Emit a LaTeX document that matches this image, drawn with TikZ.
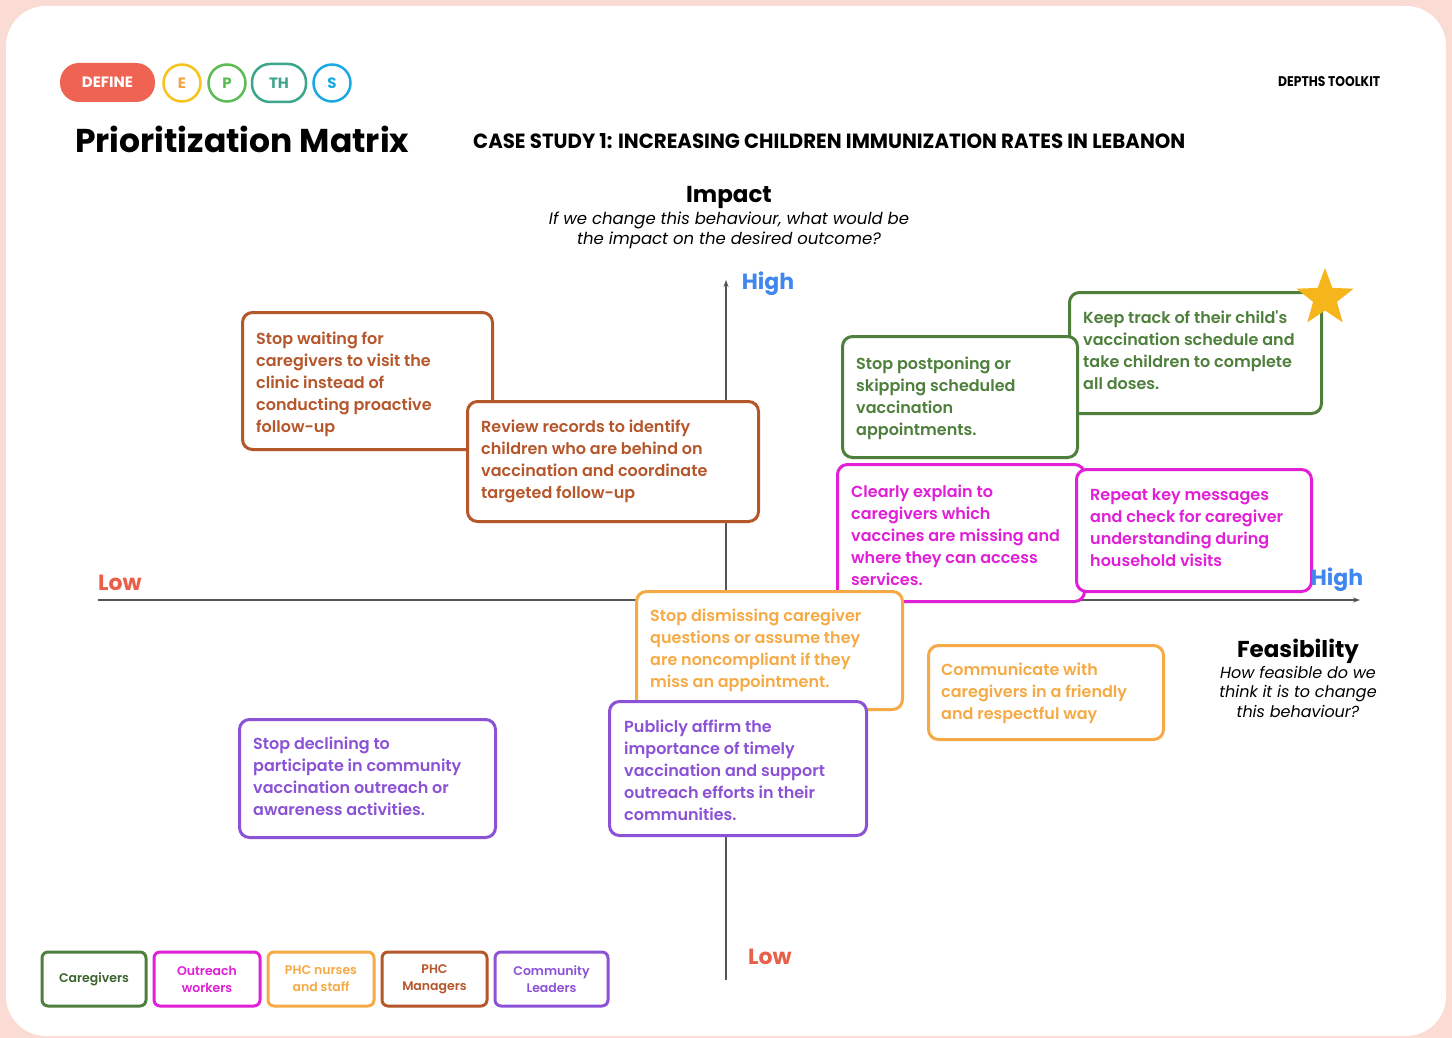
\documentclass[tikz,border=0pt]{standalone}
\usepackage{fontspec}
\setmainfont{Poppins}
\newfontfamily\boxfont{Poppins SemiBold}
\usetikzlibrary{shapes.geometric,arrows.meta,calc}

\definecolor{pagepink}{HTML}{FBDCD4}
\definecolor{brownc}{HTML}{B5562B}
\definecolor{greenc}{HTML}{4E7F3C}
\definecolor{magc}{HTML}{E01FD6}
\definecolor{orangec}{HTML}{F6AA45}
\definecolor{purplec}{HTML}{8B52D6}
\definecolor{highblue}{HTML}{3F86EE}
\definecolor{lowred}{HTML}{E9604A}
\definecolor{axisgray}{HTML}{555555}
\definecolor{definered}{HTML}{EE6352}
\definecolor{eyellow}{HTML}{F7C21B}
\definecolor{eorange}{HTML}{F2A34A}
\definecolor{pgreen}{HTML}{5DBB54}
\definecolor{thteal}{HTML}{3DA58C}
\definecolor{sblue}{HTML}{1BA9E1}
\definecolor{stargold}{HTML}{F7B51C}

\tikzset{
  card/.style={draw, line width=3pt, rounded corners=10pt, fill=white,
    anchor=north west, inner sep=0pt},
  cardtext/.style={anchor=north west, align=left, inner sep=0pt, yshift=-3pt,
    font=\boxfont\fontsize{16}{22}\selectfont},
  legendbox/.style={draw, line width=3pt, rounded corners=6pt, fill=white,
    minimum width=104pt, minimum height=54pt, align=center, inner sep=0pt,
    font=\boxfont\fontsize{12.5}{17}\selectfont},
  axisline/.style={draw=axisgray, line width=1.5pt, -{Stealth[length=7pt,width=5pt]}},
  axislabel/.style={font=\bfseries\fontsize{22}{24}\selectfont, inner sep=0pt},
  ring/.style={draw, line width=2.5pt, circle, minimum size=37pt, inner sep=0pt,
    font=\bfseries\fontsize{15}{16}\selectfont},
}

\begin{document}
\begin{tikzpicture}[x=1pt,y=-1pt]
  % page and sheet
  \fill[pagepink] (0,0) rectangle (1452,1038);
  \fill[white, rounded corners=40pt] (6,6) rectangle (1446,1036);
  \useasboundingbox (0,0) rectangle (1452,1038);

  % header tags
  \node[fill=definered, rounded corners=19pt, minimum width=95pt, minimum height=39pt,
        inner sep=0pt, text=white, font=\bfseries\fontsize{15}{16}\selectfont] (define) at (107.5,82.5) {DEFINE};
  \node[ring, draw=eyellow, text=eorange] (tagE) at (182,83) {E};
  \node[ring, draw=pgreen, text=pgreen] (tagP) at (227,83) {P};
  \node[draw=thteal, line width=2.5pt, rounded corners=18pt, minimum width=54pt, minimum height=38pt,
        inner sep=0pt, text=thteal, font=\bfseries\fontsize{15}{16}\selectfont] (tagTH) at (279,83) {TH};
  \node[ring, draw=sblue, text=sblue] (tagS) at (332,83) {S};

  \node[anchor=west, inner sep=0pt] (toolkit) at (1278,82)
    {\resizebox{102pt}{10pt}{\bfseries DEPTHS TOOLKIT}};
  \node[anchor=base west, inner sep=0pt] (title) at (75,153)
    {\resizebox{334pt}{!}{\bfseries Prioritization Matrix}};
  \node[anchor=base west, inner sep=0pt] (case) at (473,149)
    {\resizebox{712pt}{15pt}{\bfseries CASE STUDY 1: INCREASING CHILDREN IMMUNIZATION RATES IN LEBANON}};

  % axis titles
  \node[font=\bfseries\fontsize{23}{24}\selectfont, inner sep=0pt] (impact) at (729,197) {Impact};
  \node[font=\itshape\fontsize{16.5}{20}\selectfont, align=center, inner sep=0pt, anchor=north] (impactq) at (729,212)
    {If we change this behaviour, what would be\\the impact on the desired outcome?};
  \node[font=\bfseries\fontsize{23}{24}\selectfont, inner sep=0pt] (feas) at (1298,651) {Feasibility};
  \node[font=\itshape\fontsize{16}{19.5}\selectfont, align=center, inner sep=0pt, anchor=north] (feasq) at (1298,666)
    {How feasible do we\\think it is to change\\this behaviour?};

  % axes
  \coordinate (vbot) at (726,980);
  \coordinate (vtop) at (726,280);
  \coordinate (hleft) at (98,600);
  \coordinate (hright) at (1360,600);
  \draw[axisline] (vbot) -- (vtop);
  \draw[axisline] (hleft) -- (hright);
  \node[axislabel, text=highblue] (vhigh) at (768,284) {High};
  \node[axislabel, text=lowred] (vlow) at (770,957) {Low};
  \node[axislabel, text=lowred] (hlow) at (120,583) {Low};

  % PHC managers
  \node[card, draw=brownc, minimum width=250pt, minimum height=137pt] (b1) at (241,311) {};
  \node[cardtext, text=brownc] (t1) at (256,329)
    {Stop waiting for\\caregivers to visit the\\clinic instead of\\conducting proactive\\follow-up};
  \node[card, draw=brownc, minimum width=291pt, minimum height=120pt] (b2) at (466,400) {};
  \node[cardtext, text=brownc] (t2) at (481,417)
    {Review records to identify\\children who are behind on\\vaccination and coordinate\\targeted follow-up};

  % caregivers
  \node[card, draw=greenc, minimum width=252pt, minimum height=121pt] (b4) at (1068,291) {};
  \node[cardtext, text=greenc] (t4) at (1083,308)
    {Keep track of their child's\\vaccination schedule and\\take children to complete\\all doses.};
  \node[star, star points=5, star point ratio=2.4, fill=stargold, minimum size=60pt, inner sep=0pt] (star) at (1325,298) {};
  \node[card, draw=greenc, minimum width=235pt, minimum height=121pt] (b3) at (841,335) {};
  \node[cardtext, text=greenc] (t3) at (856,354)
    {Stop postponing or\\skipping scheduled\\vaccination\\appointments.};

  % outreach workers
  \node[card, draw=magc, minimum width=247pt, minimum height=137pt] (b5) at (836,463) {};
  \node[cardtext, text=magc] (t5) at (851,482)
    {Clearly explain to\\caregivers which\\vaccines are missing and\\where they can access\\services.};
  \node[card, draw=magc, minimum width=235pt, minimum height=122pt] (b6) at (1075,468) {};
  \node[cardtext, text=magc] (t6) at (1090,485)
    {Repeat key messages\\and check for caregiver\\understanding during\\household visits};
  \node[axislabel, text=highblue] (hhigh) at (1337,580) {High};

  % PHC nurses and staff
  \node[card, draw=orangec, minimum width=266pt, minimum height=118pt] (b7) at (635,590) {};
  \node[cardtext, text=orangec] (t7) at (650,606)
    {Stop dismissing caregiver\\questions or assume they\\are noncompliant if they\\miss an appointment.};
  \node[card, draw=orangec, minimum width=235pt, minimum height=94pt] (b8) at (927,644) {};
  \node[cardtext, text=orangec] (t8) at (941,660)
    {Communicate with\\caregivers in a friendly\\and respectful way};

  % community leaders
  \node[card, draw=purplec, minimum width=256pt, minimum height=118pt] (b9) at (238,718) {};
  \node[cardtext, text=purplec] (t9) at (253,734)
    {Stop declining to\\participate in community\\vaccination outreach or\\awareness activities.};
  \node[card, draw=purplec, minimum width=257pt, minimum height=134pt] (b10) at (608,700) {};
  \node[cardtext, text=purplec] (t10) at (624,717)
    {Publicly affirm the\\importance of timely\\vaccination and support\\outreach efforts in their\\communities.};

  % legend
  \node[legendbox, draw=greenc, text=greenc!80!black] (lg1) at (94,979) {Caregivers};
  \node[legendbox, draw=magc, text=magc, minimum width=106pt] (lg2) at (207,979) {Outreach\\workers};
  \node[legendbox, draw=orangec, text=orangec, minimum width=106pt] (lg3) at (321,979) {PHC nurses\\and staff};
  \node[legendbox, draw=brownc, text=brownc, minimum width=105pt] (lg4) at (434.5,979) {PHC\\Managers};
  \node[legendbox, draw=purplec, text=purplec, minimum width=113pt] (lg5) at (551.5,979) {Community\\Leaders};
\end{tikzpicture}
\end{document}
